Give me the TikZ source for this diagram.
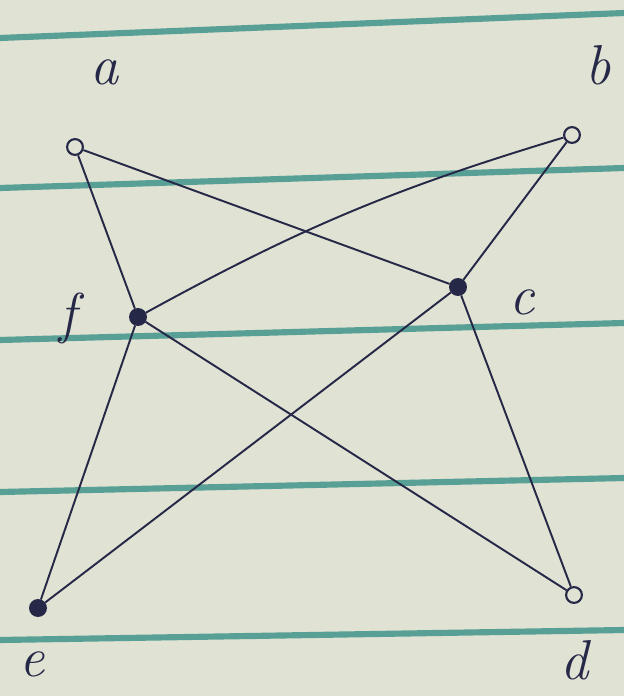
\documentclass[tikz,border=0pt]{standalone}
\usepackage{xcolor}
\usepackage{tikz}
\definecolor{paper}{RGB}{224,226,212}
\definecolor{rule}{RGB}{88,160,150}
\definecolor{ink}{RGB}{38,40,72}
\begin{document}
\begin{tikzpicture}[
  x=0.02cm, y=-0.02cm,
  vtx/.style={circle, draw=ink, line width=1.2pt, inner sep=0pt, minimum size=9pt},
  open/.style={vtx, fill=paper}, full/.style={vtx, fill=ink},
  lbl/.style={text=ink, font=\fontsize{32}{32}\selectfont\itshape},
  edge/.style={draw=ink, line width=1.1pt},
  ruled/.style={draw=rule, line width=3.5pt},
]
\fill[paper] (0,0) rectangle (624,696);
\useasboundingbox (0,0) rectangle (624,696);
% ruled lines of the paper
\draw[ruled] (0,38) -- (624,13);
\draw[ruled] (0,188) -- (624,168);
\draw[ruled] (0,340) -- (624,323);
\draw[ruled] (0,492) -- (624,478);
\draw[ruled] (0,640) -- (624,630);
% vertices
\node[open] (a) at (75,147) {};
\node[open] (b) at (572,135) {};
\node[full] (c) at (458,287) {};
\node[full] (f) at (138,317) {};
\node[full] (e) at (38,608) {};
\node[open] (d) at (574,595) {};
% labels
\node[lbl] (la) at (105,72) {a};
\node[lbl] (lb) at (598,65) {b};
\node[lbl] (lc) at (522,302) {c};
\node[lbl] (lf) at (68,318) {f};
\node[lbl] (le) at (32,664) {e};
\node[lbl] (ld) at (575,660) {d};
% edges
\draw[edge] (a) -- (f);
\draw[edge] (a) -- (c);
\draw[edge] (f) to[bend left=6] (b);
\draw[edge] (b) -- (c);
\draw[edge] (f) -- (e);
\draw[edge] (f) -- (d);
\draw[edge] (c) -- (e);
\draw[edge] (c) -- (d);
\end{tikzpicture}
\end{document}
